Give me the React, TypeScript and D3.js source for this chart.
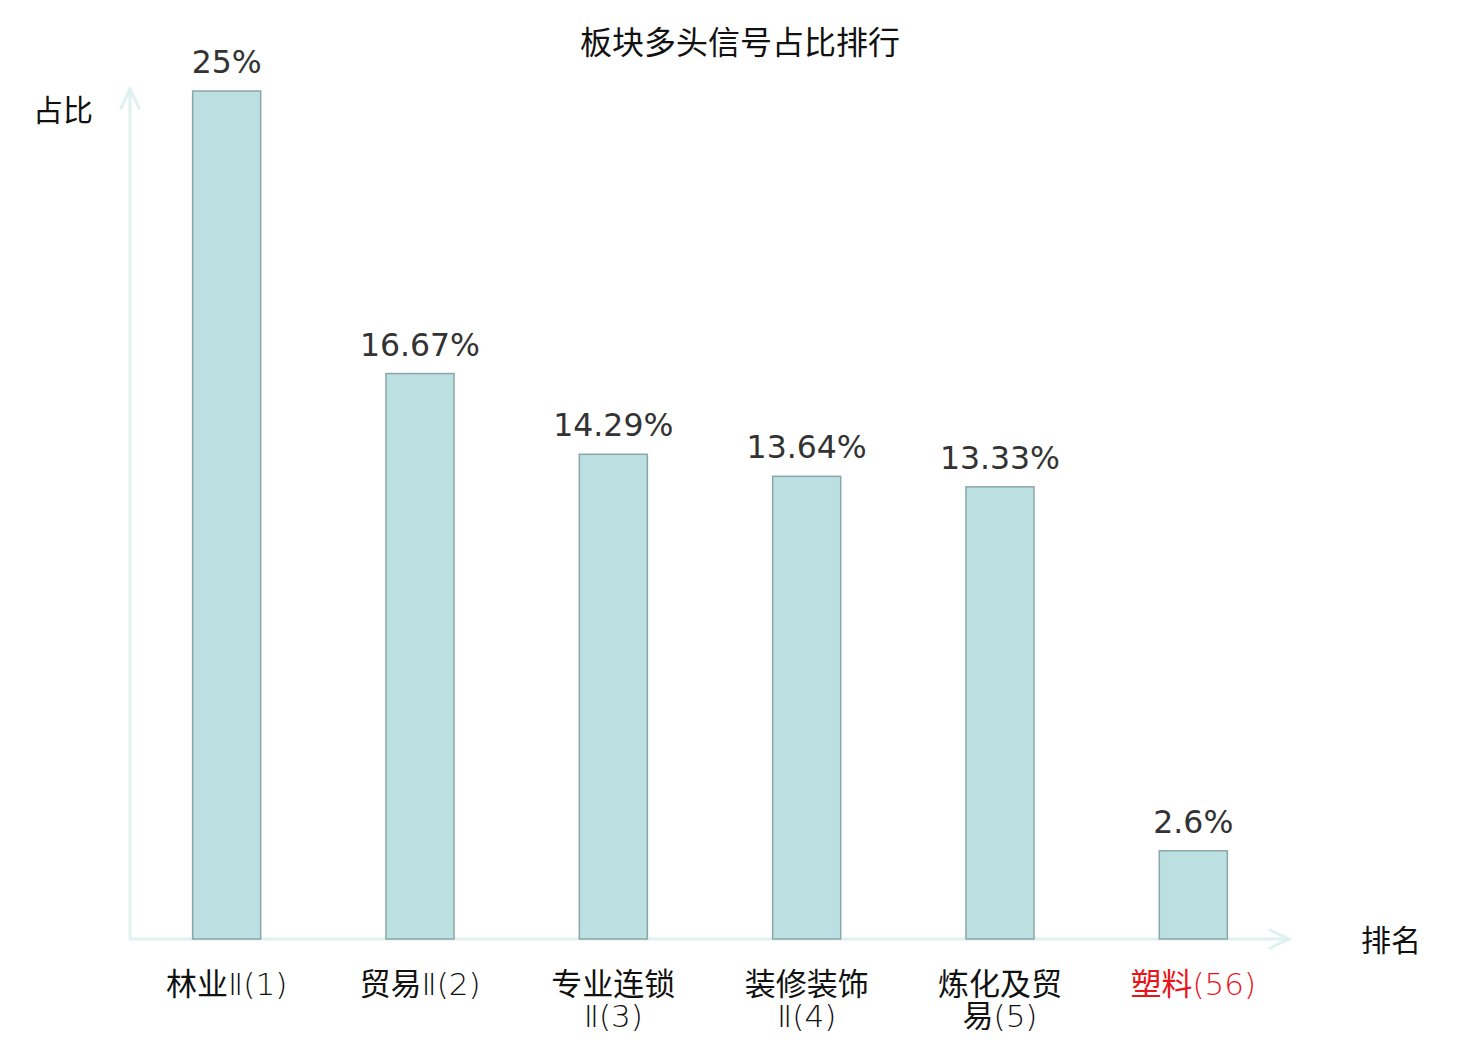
import React from 'react';
import * as d3 from 'd3';

const sectorNames = ['林业Ⅱ', '贸易Ⅱ', '专业连锁Ⅱ', '装修装饰Ⅱ', '炼化及贸易', '塑料'];
const ranks = [1, 2, 3, 4, 5, 56];
const ratios = [25, 16.67, 14.29, 13.64, 13.33, 2.6];
const highlightRank = 56;

const W = 1480;
const H = 1040;
const margin = { top: 91, right: 190, bottom: 101, left: 130 };

const axisColor = '#dff2ef';
const cjk = '"Noto Sans CJK SC", "DejaVu Sans", sans-serif';
const latin = '"DejaVu Sans", "Noto Sans CJK SC", sans-serif';

// split the sector name into chunks of 4 characters, rank goes on the last line
const wrapLabel = (name: string, rank: number) => {
    const chars = Array.from(name);
    const lines: string[] = [];
    for (let i = 0; i < chars.length; i += 4) lines.push(chars.slice(i, i + 4).join(''));
    lines[lines.length - 1] += `(${rank})`;
    return lines;
};

// han characters get the regular weight, the rest stays thin
const segments = (line: string) => {
    const out: { text: string; han: boolean }[] = [];
    for (const ch of Array.from(line)) {
        const han = /\p{Script=Han}/u.test(ch);
        const last = out[out.length - 1];
        if (last && last.han === han) last.text += ch;
        else out.push({ text: ch, han });
    }
    return out;
};

const App: React.FC = () => {
    const x0 = margin.left;
    const x1 = W - margin.right;
    const y0 = H - margin.bottom;

    const x = d3.scaleBand<number>()
        .domain(ranks)
        .range([x0, x1])
        .paddingInner(0.648)
        .paddingOuter(0.324);

    const y = d3.scaleLinear()
        .domain([0, d3.max(ratios) as number])
        .range([y0, margin.top]);

    const cx = (r: number) => (x(r) as number) + x.bandwidth() / 2;

    return (
        <svg width={W} height={H} style={{ position: 'absolute', left: 0, top: 0 }}>
            <rect width={W} height={H} fill="#fff" />

            {/* title */}
            <text x={W / 2} y={54} textAnchor="middle" fontFamily={cjk} fontSize={32} fill="#111">
                板块多头信号占比排行
            </text>

            {/* axes with open arrows */}
            <g stroke={axisColor} strokeWidth={3} fill="none" strokeLinecap="round">
                <line x1={x0} y1={y0} x2={x0} y2={89} />
                <polyline points={`${x0 - 9},${108} ${x0},${89} ${x0 + 9},${108}`} />
                <line x1={x0} y1={y0} x2={1289} y2={y0} />
                <polyline points={`${1270},${y0 - 9} ${1289},${y0} ${1270},${y0 + 9}`} />
            </g>

            {/* axis names */}
            <text x={63} y={121} textAnchor="middle" fontFamily={cjk} fontSize={30} fill="#111">占比</text>
            <text x={1391} y={951} textAnchor="middle" fontFamily={cjk} fontSize={30} fill="#111">排名</text>

            {/* bars */}
            {ratios.map((v, i) => (
                <rect
                    key={ranks[i]}
                    x={x(ranks[i])}
                    y={y(v)}
                    width={x.bandwidth()}
                    height={y0 - y(v)}
                    fill="#bce0e2"
                    stroke="#8aa7a8"
                    strokeWidth={1.5}
                />
            ))}

            {/* value labels */}
            {ratios.map((v, i) => (
                <text
                    key={ranks[i]}
                    x={cx(ranks[i])}
                    y={y(v) - 18}
                    textAnchor="middle"
                    fontFamily={latin}
                    fontSize={31.5}
                    fill="#333"
                >
                    {`${v}%`}
                </text>
            ))}

            {/* category labels, one text per line */}
            {sectorNames.map((name, i) =>
                wrapLabel(name, ranks[i]).map((line, j) => (
                    <text
                        key={`${ranks[i]}-${j}`}
                        x={cx(ranks[i])}
                        y={995 + j * 32}
                        textAnchor="middle"
                        fontFamily={latin}
                        fontSize={31}
                        fontWeight={200}
                        fill={ranks[i] === highlightRank ? '#e8141b' : '#111'}
                    >
                        {segments(line).map((s, k) => (
                            <tspan key={k} fontWeight={s.han ? 400 : 200} fontFamily={s.han ? cjk : latin}>
                                {s.text}
                            </tspan>
                        ))}
                    </text>
                ))
            )}
        </svg>
    );
};

export default App;
